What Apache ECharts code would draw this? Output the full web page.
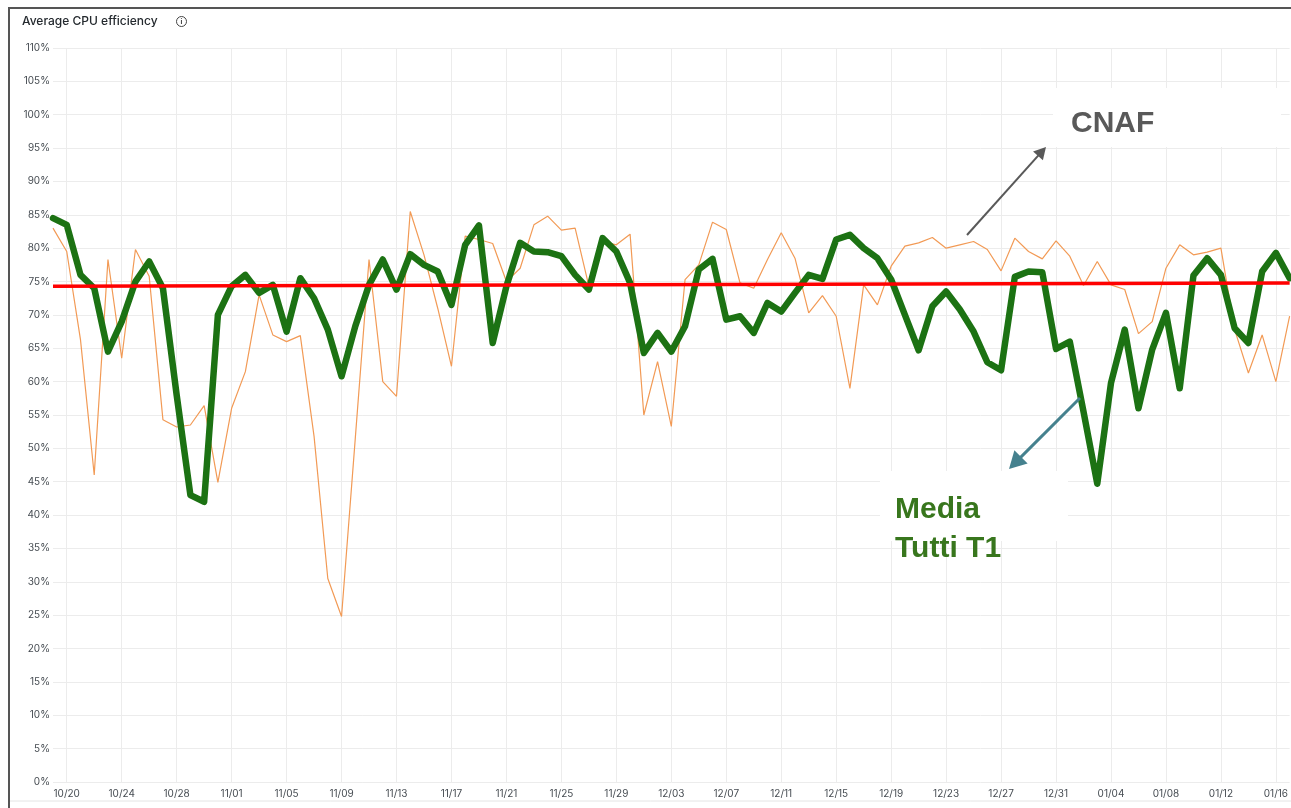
<!DOCTYPE html>
<html>
<head>
<meta charset="utf-8">
<title>Average CPU efficiency</title>
<script src="https://cdn.jsdelivr.net/npm/echarts@6.0.0/dist/echarts.min.js"></script>
<style>
  html, body { margin: 0; padding: 0; background: #fff; }
  #chart { width: 1291px; height: 808px; }
</style>
</head>
<body>
<div id="chart"></div>
<script>
// daily points, 10/19 .. 01/17
const dates = [
  '10/19','10/20','10/21','10/22','10/23','10/24','10/25','10/26','10/27','10/28','10/29','10/30','10/31',
  '11/01','11/02','11/03','11/04','11/05','11/06','11/07','11/08','11/09','11/10','11/11','11/12','11/13','11/14','11/15',
  '11/16','11/17','11/18','11/19','11/20','11/21','11/22','11/23','11/24','11/25','11/26','11/27','11/28','11/29','11/30',
  '12/01','12/02','12/03','12/04','12/05','12/06','12/07','12/08','12/09','12/10','12/11','12/12','12/13','12/14','12/15',
  '12/16','12/17','12/18','12/19','12/20','12/21','12/22','12/23','12/24','12/25','12/26','12/27','12/28','12/29','12/30','12/31',
  '01/01','01/02','01/03','01/04','01/05','01/06','01/07','01/08','01/09','01/10','01/11','01/12','01/13','01/14','01/15','01/16','01/17'
];

// CNAF (thin orange)
const cnaf = [
  83, 79.5, 66.3, 46, 78.3, 63.5, 79.8, 75.8, 54.3, 53.2, 53.5, 56.4, 44.9,
  56, 61.5, 73, 67, 66, 66.9, 51.8, 30.5, 24.8, 51.5, 78.3, 60, 57.8, 85.5, 79,
  71, 62.3, 81.8, 81.3, 80.7, 75, 77, 83.5, 84.8, 82.7, 83, 74.3, 81, 80.5, 82.1,
  55, 63, 53.3, 75.3, 77.5, 83.9, 82.8, 74.8, 74, 78.3, 82.3, 78.5, 70.3, 72.9, 69.8,
  59, 74.5, 71.5, 77.3, 80.3, 80.8, 81.6, 80, 80.5, 81, 79.8, 76.6, 81.5, 79.5, 78.4, 81.1,
  78.8, 74.4, 78, 74.5, 73.8, 67.2, 69, 77, 80.5, 79, 79.4, 80, 67.8, 61.3, 67, 60, 69.8
];

// Media tutti T1 (thick green)
const mediaT1 = [
  84.5, 83.5, 76, 74, 64.5, 69, 75, 78, 74, 58, 43, 42, 70,
  74.3, 76, 73.3, 74.5, 67.5, 75.5, 72.5, 67.8, 60.8, 68.3, 74.5, 78.3, 73.8, 79.1, 77.5,
  76.5, 71.5, 80.5, 83.4, 65.8, 74.3, 80.8, 79.5, 79.4, 78.8, 76, 73.8, 81.5, 79.5, 74.8,
  64.3, 67.3, 64.5, 68.3, 76.8, 78.4, 69.3, 69.8, 67.3, 71.8, 70.5, 73.3, 76, 75.4, 81.3,
  82, 80, 78.5, 75.3, 70, 64.7, 71.3, 73.5, 70.8, 67.5, 62.9, 61.7, 75.7, 76.5, 76.4, 64.9,
  66, 55.5, 44.7, 59.8, 67.8, 56, 64.8, 70.3, 59, 75.9, 78.5, 76, 68, 65.8, 76.5, 79.3, 75.5
];

// red reference line, first and last day
const trend = [74.3, 74.8];

const yTicks = { min: 0, max: 110, step: 5 };

const chart = echarts.init(document.getElementById('chart'));
const everyFourth = (i) => (i - 1) % 4 === 0;
const font = 'Inter, "Noto Sans", sans-serif';

// arrow helper for the slide annotations
function arrow(x1, y1, x2, y2, color, width, head) {
  const a = Math.atan2(y2 - y1, x2 - x1);
  const hw = head * 0.55;
  const bx = x2 - Math.cos(a) * head, by = y2 - Math.sin(a) * head;
  return [
    { type: 'line', z: 200, shape: { x1, y1, x2: bx + Math.cos(a) * 2, y2: by + Math.sin(a) * 2 },
      style: { stroke: color, lineWidth: width } },
    { type: 'polygon', z: 200, shape: { points: [
        [x2, y2],
        [bx + Math.sin(a) * hw, by - Math.cos(a) * hw],
        [bx - Math.sin(a) * hw, by + Math.cos(a) * hw]
      ] }, style: { fill: color } }
  ];
}

chart.setOption({
  animation: false,
  backgroundColor: '#fff',
  grid: { left: 53, right: 1, top: 48, bottom: 26, containLabel: false },
  xAxis: {
    type: 'category',
    data: dates,
    boundaryGap: false,
    axisLine: { show: false },
    axisTick: { show: false },
    axisLabel: { interval: everyFourth, color: '#464c52', fontSize: 10, fontFamily: font, margin: 7 },
    splitLine: { show: true, interval: everyFourth, lineStyle: { color: '#ececec', width: 1 } }
  },
  yAxis: {
    type: 'value',
    min: yTicks.min,
    max: yTicks.max,
    interval: yTicks.step,
    axisLine: { show: false },
    axisTick: { show: false },
    axisLabel: { formatter: '{value}%', color: '#464c52', fontSize: 10, fontFamily: font, margin: 3 },
    splitLine: { lineStyle: { color: '#ececec', width: 1 } }
  },
  series: [
    {
      name: 'CNAF',
      type: 'line',
      data: cnaf,
      showSymbol: false,
      lineStyle: { color: '#f29a55', width: 1.2 },
      z: 2
    },
    {
      name: 'Media Tutti T1',
      type: 'line',
      data: mediaT1,
      showSymbol: false,
      lineStyle: { color: '#1c7213', width: 6.5, join: 'round', cap: 'round' },
      z: 3
    },
    {
      name: 'trend',
      type: 'line',
      data: [[dates[0], trend[0]], [dates[dates.length - 1], trend[1]]],
      showSymbol: false,
      lineStyle: { color: '#ff0000', width: 3.5 },
      z: 4
    }
  ],
  graphic: [
    // panel frame
    { type: 'line', z: 300, shape: { x1: 8, y1: 8, x2: 1291, y2: 8 }, style: { stroke: '#555', lineWidth: 2 } },
    { type: 'line', z: 300, shape: { x1: 9, y1: 8, x2: 9, y2: 808 }, style: { stroke: '#555', lineWidth: 2 } },
    { type: 'line', z: 300, shape: { x1: 10, y1: 801, x2: 1291, y2: 801 }, style: { stroke: '#e4e4e4', lineWidth: 1 } },
    // panel title
    { type: 'text', z: 300, left: 22, top: 15, style: { text: 'Average CPU efficiency', font: '500 12px ' + font, fill: '#24292e' } },
    { type: 'circle', z: 300, shape: { cx: 181.5, cy: 21.5, r: 5 }, style: { fill: 'none', stroke: '#444', lineWidth: 1 } },
    { type: 'text', z: 300, x: 181.5, y: 21.8, style: { text: 'i', font: 'bold 7px ' + font, fill: '#444', align: 'center', verticalAlign: 'middle' } },
    // CNAF label
    { type: 'rect', z: 150, shape: { x: 1053, y: 88, width: 228, height: 59 }, style: { fill: '#fff' } },
    { type: 'text', z: 201, left: 1071, top: 109, style: { text: 'CNAF', font: 'bold 30px "Liberation Sans", Arial, sans-serif', fill: '#595959' } },
    ...arrow(967, 235, 1046, 147, '#595959', 2, 12),
    // Media Tutti T1 label
    { type: 'rect', z: 150, shape: { x: 880, y: 471, width: 188, height: 70 }, style: { fill: '#fff' } },
    { type: 'text', z: 201, left: 895, top: 490, style: { text: 'Media\nTutti T1', font: 'bold 30px "Liberation Sans", Arial, sans-serif', lineHeight: 39, fill: '#38761d' } },
    ...arrow(1080, 398, 1009, 469, '#45818e', 3, 17)
  ]
});
</script>
</body>
</html>
